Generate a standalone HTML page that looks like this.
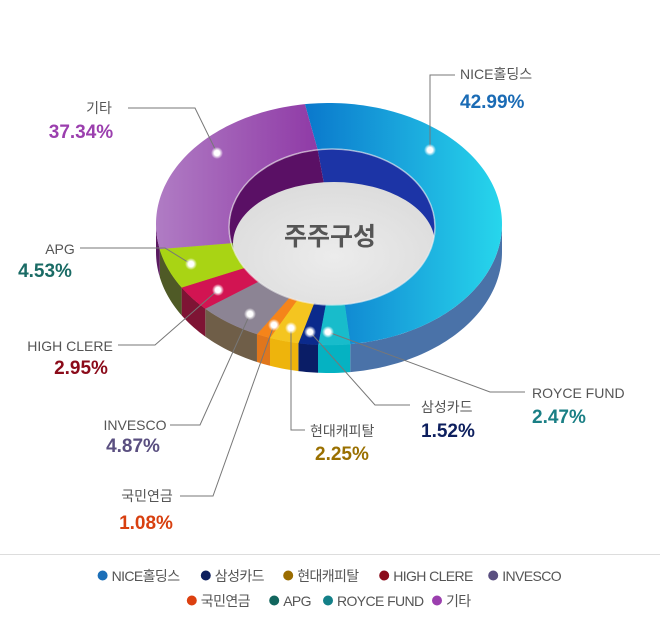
<!DOCTYPE html>
<html><head><meta charset="utf-8">
<style>
html,body{margin:0;padding:0;background:#fff;}
body{width:660px;height:619px;overflow:hidden;font-family:"Liberation Sans","Noto Sans CJK KR",sans-serif;}
svg text{font-family:"Liberation Sans","Noto Sans CJK KR",sans-serif;}
</style></head>
<body>
<svg id="chart" width="660" height="619" viewBox="0 0 660 619">
<defs>
<linearGradient id="gNice" x1="0" y1="0" x2="1" y2="0">
<stop offset="0" stop-color="#0a78cc"/><stop offset="0.5" stop-color="#1aa6dc"/><stop offset="1" stop-color="#27d6ec"/></linearGradient>
<linearGradient id="gEtc" x1="0" y1="0" x2="1" y2="0">
<stop offset="0" stop-color="#b07cc4"/><stop offset="1" stop-color="#8f3aa6"/></linearGradient>
<radialGradient id="gFloor" cx="0.5" cy="0.6" r="0.6">
<stop offset="0" stop-color="#ececec"/><stop offset="1" stop-color="#dcdcdc"/></radialGradient>
<clipPath id="holeClip"><ellipse cx="332" cy="227" rx="103" ry="78"/></clipPath>
<radialGradient id="gDot"><stop offset="0.45" stop-color="#fff"/><stop offset="1" stop-color="#fff" stop-opacity="0"/></radialGradient>
</defs>
<g id="sides"></g><g id="hole"></g><g id="tops"></g><g id="leaders"></g><g id="labels"></g>
<text x="330" y="245" text-anchor="middle" font-size="25" font-weight="bold" fill="#555">주주구성</text>
<line x1="0" y1="554.5" x2="660" y2="554.5" stroke="#dddddd"/>
<g id="legend"></g>
</svg>
<script>
const categories = ["NICE홀딩스","ROYCE FUND","삼성카드","현대캐피탈","국민연금","INVESCO","HIGH CLERE","APG","기타"];
const values = [42.99,2.47,1.52,2.25,1.08,4.87,2.95,4.53,37.34];
const valueLabels = ["42.99%","2.47%","1.52%","2.25%","1.08%","4.87%","2.95%","4.53%","37.34%"];
const legendOrder = ["NICE홀딩스","삼성카드","현대캐피탈","HIGH CLERE","INVESCO","국민연금","APG","ROYCE FUND","기타"];

const topColors = ["url(#gNice)","#18bccb","#0b2a8c","#f4c520","#f5841a","#8c8494","#d21452","#a9d414","url(#gEtc)"];
const sideColors = ["#4a72a8","#05b2c2","#0a1d66","#eeb40c","#e0761c","#6f5e48","#7e1434","#4f5a26","#5a1a60"];
const wallColors = ["#1c34a6","#0a8a96","#0a1d66","#b08a00","#b05a10","#555060","#80102c","#5a7a10","#5a1065"];
const labelColors = ["#1a6bb5","#1a7f85","#0d1f5e","#9a7000","#d84010","#5a4f80","#8b0b1a","#1a6b65","#9b3fae"];
const legendDot = {"NICE홀딩스":"#1c6fb8","삼성카드":"#0d1f5e","현대캐피탈":"#9a6c00","HIGH CLERE":"#8b0b1a","INVESCO":"#5a4f80","국민연금":"#dc4010","APG":"#12665e","ROYCE FUND":"#138088","기타":"#9b3fae"};

const NS="http://www.w3.org/2000/svg";
const CX=329,CY=224,RX=173,RY=121,D=28,ICX=332,ICY=227,IRX=103,IRY=78;
const WF=[0,0.43,0.6266,1], WT=[-8,173,258,352];
function warp(f){for(let i=1;i<WF.length;i++){if(f<=WF[i]){const u=(f-WF[i-1])/(WF[i]-WF[i-1]);return WT[i-1]+u*(WT[i]-WT[i-1]);}}return WT[WT.length-1];}
function pt(t,cx,cy,rx,ry){const r=t*Math.PI/180;return [cx+rx*Math.sin(r),cy-ry*Math.cos(r)];}
function arc(t1,t2,cx,cy,rx,ry,dy){const pts=[];const n=Math.max(2,Math.ceil(Math.abs(t2-t1)/1.5));for(let i=0;i<=n;i++){const t=t1+(t2-t1)*i/n;const p=pt(t,cx,cy,rx,ry);pts.push(p[0].toFixed(2)+","+(p[1]+(dy||0)).toFixed(2));}return pts;}
function mk(tag,attrs,parent){const e=document.createElementNS(NS,tag);for(const k in attrs)e.setAttribute(k,attrs[k]);parent.appendChild(e);return e;}

const total=values.reduce((a,b)=>a+b,0);
let cum=0;const angs=[];
values.forEach(v=>{const a=warp(cum/total);cum+=v;const b=warp(cum/total);angs.push([a,b]);});

const sides=document.getElementById('sides'),hole=document.getElementById('hole'),tops=document.getElementById('tops');
angs.forEach(([a,b],i)=>{
  const s=Math.max(a,90),e=Math.min(b,270);
  if(s<e){const p=arc(s,e,CX,CY,RX,RY,0).concat(arc(e,s,CX,CY,RX,RY,D));
    const el=mk('polygon',{points:p.join(' '),fill:sideColors[i]},sides);
    
    }
  const ie=[ICX,ICY].join(',');
  const hp=[ie].concat(arc(a,b,ICX,ICY,IRX,IRY,0));
  const h=mk('polygon',{points:hp.join(' '),fill:wallColors[i]},hole);
  
  
  const tp=arc(a,b,CX,CY,RX,RY,0).concat(arc(b,a,ICX,ICY,IRX,IRY,0));
  const t=mk('polygon',{points:tp.join(' '),fill:topColors[i],stroke:topColors[i].startsWith('url')?'none':topColors[i],'stroke-width':0.5},tops);
  
  
});
const fl=mk('ellipse',{cx:334,cy:244,rx:101,ry:62,fill:"url(#gFloor)",'clip-path':"url(#holeClip)"},hole);


mk('ellipse',{cx:ICX,cy:ICY,rx:IRX,ry:IRY,fill:"none",stroke:"#f4f4f4",'stroke-width':1.5,'stroke-opacity':0.6},tops);

const dots=[[430,150],[328,332],[310,332],[291,328],[274,325],[250,314],[218,290],[191,264],[217,153]];
const leaderPaths=[[[430,75],[455,75]],[[490,392],[525,392]],[[375,405],[410,405]],[[291,430],[305,430]],[[213,496],[180,496]],[[200,425],[170,425]],[[155,345],[118,345]],[[165,248],[80,248]],[[195,108],[128,108]]];
const namePos=[[460,79,'start'],[532,398,'start'],[421,412,'start'],[310,436,'start'],[147,501,'middle'],[135,430,'middle'],[70,351,'middle'],[60,254,'middle'],[99,113,'middle']];
const valPos=[[460,108,'start'],[532,423,'start'],[421,437,'start'],[315,460,'start'],[146,529,'middle'],[133,452,'middle'],[81,374,'middle'],[45,277,'middle'],[81,138,'middle']];
const leaders=document.getElementById('leaders'),labels=document.getElementById('labels');
categories.forEach((c,i)=>{
  const pts=[dots[i]].concat(leaderPaths[i]).map(p=>p.join(',')).join(' ');
  const l=mk('polyline',{points:pts,fill:'none',stroke:'#777','stroke-width':1},leaders);
  
  
  const g=mk('circle',{cx:dots[i][0],cy:dots[i][1],r:6,fill:'url(#gDot)'},leaders);
  
  
  const n=mk('text',{x:namePos[i][0],y:namePos[i][1],'text-anchor':namePos[i][2],'font-size':14,fill:'#555'},labels);
  n.textContent=c;
  
  
  const v=mk('text',{x:valPos[i][0],y:valPos[i][1],'text-anchor':valPos[i][2],'font-size':19,'font-weight':'bold',fill:labelColors[i]},labels);
  v.textContent=valueLabels[i];
  
  
});

const legend=document.getElementById('legend');
const rows=[legendOrder.slice(0,5),legendOrder.slice(5)];
const rowY=[576,601];
rows.forEach((row,ri)=>{
  const widths=row.map(n=>{let w=0;for(const ch of n){w+=/[\u3131-\uD7A3]/.test(ch)?13.6:(ch===' '?3.6:8.6);}return 14+w;});
  const gap=14;const tot=widths.reduce((a,b)=>a+b,0)+gap*(row.length-1);
  let x=330-tot/2;
  row.forEach((n,k)=>{
    const g=mk('g',{},legend);
    
    
    mk('circle',{cx:x+5,cy:rowY[ri]-0.5,r:5,fill:legendDot[n]},g);
    const t=mk('text',{x:x+14,y:rowY[ri]+5,'font-size':14,fill:'#555','letter-spacing':'-0.6'},g);
    t.textContent=n;
    x+=widths[k]+gap;
  });
});
</script>
</body></html>
